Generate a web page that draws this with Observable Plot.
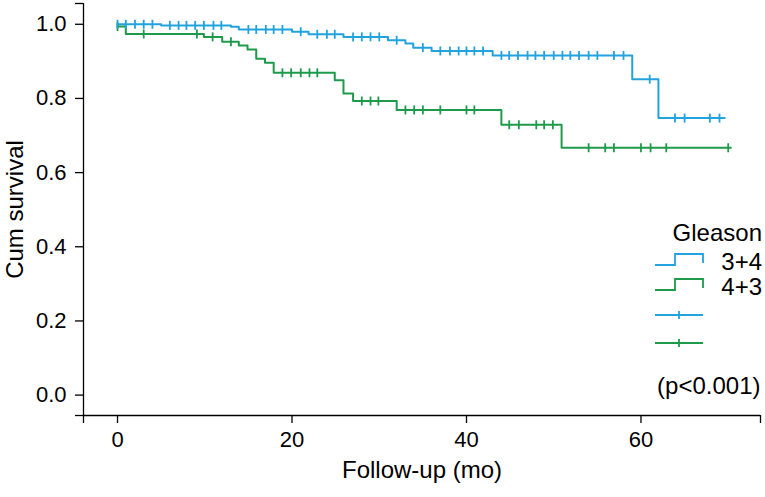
<!DOCTYPE html>
<html>
<head>
<meta charset="utf-8">
<script src="https://cdn.jsdelivr.net/npm/d3@7"></script>
<script src="https://cdn.jsdelivr.net/npm/@observablehq/plot@0.6"></script>
<style>
  html, body { margin: 0; padding: 0; background: #fff; }
  #chart { width: 765px; height: 497px; }
</style>
</head>
<body>
<div id="chart"></div>
<script>
// ---- Data ----
const groups = ["3+4", "4+3"];
const groupColors = ["#22a3de", "#1e9a4b"];

// Gleason 3+4: step times (months) and cumulative survival after each step
const times34 = [0, 5.0, 13.0, 13.9, 20.0, 21.9, 25.9, 31.0, 33.0, 33.9, 36.0, 43.0, 59.0, 62.0, 69.6];
const surv34  = [1.0, 0.997, 0.993, 0.986, 0.980, 0.973, 0.966, 0.957, 0.948, 0.937, 0.928, 0.916, 0.852, 0.747, 0.747];
const censor34 = [0, 0.95, 2, 3, 4, 6, 7, 7.9, 8.9, 9.9, 11, 11.9, 15, 15.9, 17, 17.9, 18.9, 21, 22.9, 24, 24.9,
  27, 28, 29, 30, 32, 35, 37, 38.1, 39.1, 40, 40.9, 41.9, 44, 44.9, 45.9, 47, 47.9, 48.9, 50, 51, 51.9, 52.9,
  54, 55, 56.9, 58, 61, 63.9, 65, 67.9, 69];

// Gleason 4+3
const times43 = [0, 0.95, 9.9, 12.0, 13.9, 14.9, 15.9, 16.9, 17.9, 24.9, 25.9, 27.0, 32.0, 44.0, 50.9, 70.3];
const surv43  = [0.994, 0.974, 0.966, 0.953, 0.943, 0.932, 0.907, 0.896, 0.869, 0.849, 0.813, 0.793, 0.769, 0.729, 0.667, 0.667];
const censor43 = [0, 3, 9.1, 10.9, 13, 18.9, 19.9, 21, 22, 22.9, 28, 29, 29.9, 33, 34, 35, 37, 40, 40.9,
  44.9, 46, 48, 48.9, 49.9, 54, 55.9, 56.9, 60, 61.1, 62.9, 70];

const xTicks = [0, 20, 40, 60];
const yTicks = [0, 0.2, 0.4, 0.6, 0.8, 1.0];
const xLabel = "Follow-up (mo)";
const yLabel = "Cum survival";
const legendTitle = "Gleason";
const pText = "(p<0.001)";

// ---- Build tables ----
function stepAt(times, surv, t) {
  let v = surv[0];
  for (let i = 0; i < times.length; i++) if (times[i] <= t) v = surv[i];
  return v;
}
const curves = [
  ...times34.map((t, i) => ({group: groups[0], t, s: surv34[i]})),
  ...times43.map((t, i) => ({group: groups[1], t, s: surv43[i]}))
];
const censored = [
  ...censor43.map(t => ({group: groups[1], t, s: stepAt(times43, surv43, t)})),
  ...censor34.map(t => ({group: groups[0], t, s: stepAt(times34, surv34, t)}))
];

const xDomain = [-3.9, 73.7];
const yDomain = [-0.055, 1.056];

const vbar = {
  draw(context, size) {
    const h = Math.sqrt(size / Math.PI);
    context.moveTo(0, -h);
    context.lineTo(0, h);
  }
};

const font = "'Liberation Sans', Arial, Helvetica, sans-serif";

const svg = Plot.plot({
  width: 765,
  height: 497,
  marginLeft: 83,
  marginRight: 5,
  marginTop: 3,
  marginBottom: 82,
  x: {domain: xDomain},
  y: {domain: yDomain},
  color: {domain: groups, range: groupColors},
  style: {fontFamily: font, fontSize: "22px", color: "#000", background: "#fff", overflow: "visible"},
  marks: [
    Plot.axisX({
      ticks: [xDomain[0], ...xTicks, xDomain[1]],
      tickFormat: d => xTicks.includes(d) ? String(d) : "",
      tickSize: 8, tickPadding: 8, label: null, fontSize: 22, stroke: "#000", strokeWidth: 1.3
    }),
    Plot.axisY({
      ticks: [yDomain[0], ...yTicks, yDomain[1]],
      tickFormat: d => yTicks.includes(d) ? d.toFixed(1) : "",
      tickSize: 8, tickPadding: 9, label: null, fontSize: 22, stroke: "#000", strokeWidth: 1.3
    }),
    Plot.ruleX([xDomain[0]], {stroke: "#000", strokeWidth: 1.3}),
    Plot.ruleY([yDomain[0]], {stroke: "#000", strokeWidth: 1.3}),
    Plot.line(curves, {x: "t", y: "s", z: "group", stroke: "group", curve: "step-after", strokeWidth: 2}),
    Plot.dot(censored, {x: "t", y: "s", stroke: "group", symbol: vbar, r: 4.5, strokeWidth: 1.8}),
    Plot.text([xLabel], {frameAnchor: "bottom", textAnchor: "middle", lineAnchor: "middle", dy: 55, dx: 0, fontSize: 24, fill: "#000"}),
    Plot.text([yLabel], {frameAnchor: "left", textAnchor: "middle", lineAnchor: "middle", dx: -68, rotate: -90, fontSize: 24, fill: "#000"}),
    Plot.text([pText], {frameAnchor: "bottom-right", textAnchor: "end", dy: -22, dx: 0, fontSize: 24, fill: "#000"})
  ]
});

// ---- Legend (inside plot area, right side) ----
const lg = d3.select(svg).append("g")
  .attr("font-family", font).attr("font-size", 24).attr("fill", "#000");
lg.append("text").attr("x", 762).attr("y", 241).attr("text-anchor", "end").text(legendTitle);
const rowY = [265, 290];
groups.forEach((g, i) => {
  const y0 = rowY[i];
  lg.append("path")
    .attr("d", `M655,${y0}H675V${y0 - 11}H703V${y0 - 2}`)
    .attr("fill", "none").attr("stroke", groupColors[i]).attr("stroke-width", 1.8);
  lg.append("text").attr("x", 762).attr("y", y0 + 5).attr("text-anchor", "end").text(g);
});
const cenY = [315, 343];
groups.forEach((g, i) => {
  const y0 = cenY[i];
  lg.append("path")
    .attr("d", `M655,${y0}H703M679,${y0 - 4}V${y0 + 4}`)
    .attr("fill", "none").attr("stroke", groupColors[i]).attr("stroke-width", 1.8);
});

document.getElementById("chart").appendChild(svg);
</script>
</body>
</html>
